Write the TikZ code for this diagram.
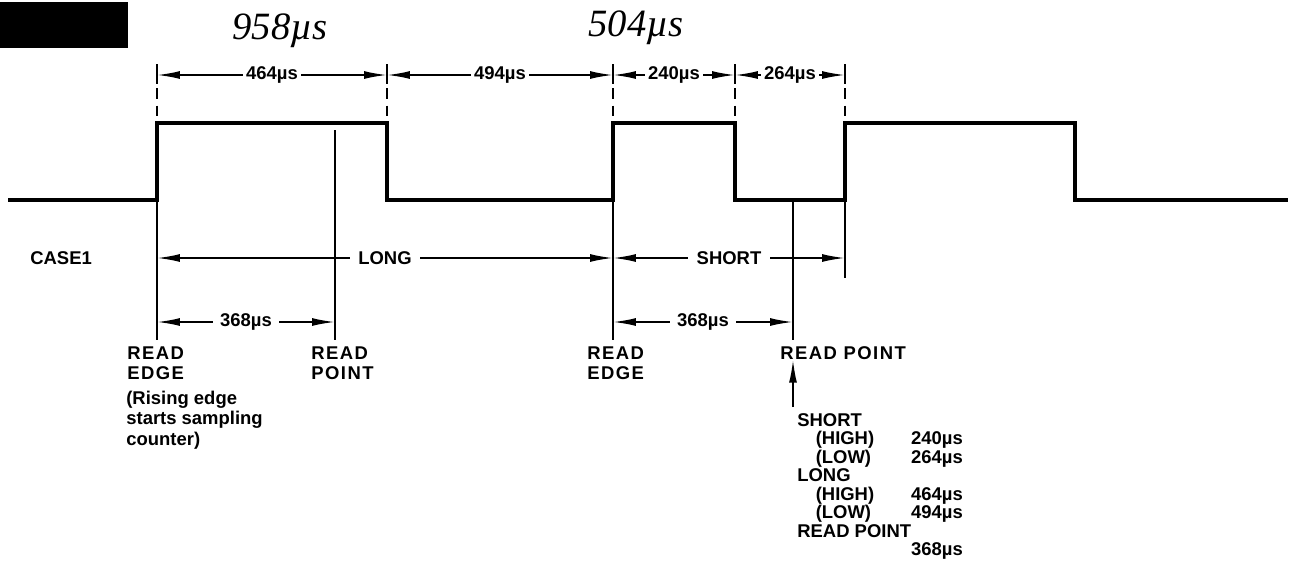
\documentclass[tikz,border=0pt]{standalone}
\usepackage{fontspec}
\setmainfont{Liberation Sans}
\newfontfamily\handfont{Liberation Serif}
\usetikzlibrary{arrows.meta}

\begin{document}
\begin{tikzpicture}[
  x=0.02cm, y=-0.02cm,
  font=\bfseries\fontsize{10.5}{11.5}\selectfont,
  >={Latex[length=13pt,width=4.5pt]},
  wave/.style={line width=2.3pt},
  guide/.style={line width=1pt},
  dim/.style={<->, line width=1pt},
  dimlbl/.style={fill=white, inner sep=2pt},
  lbl/.style={anchor=north west, align=left, inner sep=0pt},
  wide/.style={font=\bfseries\fontsize{10.5}{11.5}\selectfont\addfontfeatures{LetterSpace=8}},
  hand/.style={font=\handfont\itshape\fontsize{22}{22}\selectfont},
]
  \useasboundingbox (0,0) rectangle (1296,582);

  % scan mark
  \fill (0,2) rectangle (128,48);

  % handwritten totals
  \node[hand] (tot1) at (280,31) {958µs};
  \node[hand] (tot2) at (636,28) {504µs};

  % edges
  \coordinate (r1) at (157,200);
  \coordinate (f1) at (387,200);
  \coordinate (r2) at (613,200);
  \coordinate (f2) at (735,200);
  \coordinate (r3) at (845,200);

  % waveform
  \draw[wave] (8,200) -- (157,200) -- (157,123) -- (387,123) -- (387,200)
    -- (613,200) -- (613,123) -- (735,123) -- (735,200) -- (845,200)
    -- (845,123) -- (1075,123) -- (1075,200) -- (1288,200);

  % top dimensions
  \foreach \x in {157,387,613,735,845} {
    \draw[guide] (\x,64) -- (\x,84);
    \draw[guide, dash pattern=on 6pt off 4pt] (\x,88) -- (\x,121);
    \coordinate (t\x) at (\x,75);
  }
  \draw[dim] (t157) -- node[dimlbl] (d1) {464µs} (t387);
  \draw[dim] (t387) -- node[dimlbl] (d2) {494µs} (t613);
  \draw[dim] (t613) -- node[dimlbl] (d3) {240µs} (t735);
  \draw[dim] (t735) -- node[dimlbl] (d4) {264µs} (t845);

  % read lines
  \coordinate (rp1) at (335,130);
  \coordinate (rp2) at (793,200);
  \draw[guide] (r1) -- (157,340);
  \draw[guide] (rp1) -- (335,340);
  \draw[guide] (r2) -- (613,340);
  \draw[guide] (rp2) -- (793,340);
  \draw[guide] (r3) -- (845,278);

  % case 1
  \node[anchor=west, inner sep=0pt] (case) at (30,258) {CASE1};
  \draw[dim] (157,258) -- node[dimlbl, inner sep=5pt] (lng) {LONG} (613,258);
  \draw[dim] (613,258) -- node[dimlbl, inner sep=5pt] (shrt) {SHORT} (845,258);
  \draw[dim] (157,322) -- node[dimlbl, inner sep=4pt] (s1) {368µs} (335,322);
  \draw[dim] (613,322) -- node[dimlbl, inner sep=4pt] (s2) {368µs} (793,322);

  % labels
  \node[lbl, wide] (re1) at (127,346) {READ\\EDGE};
  \node[lbl, wide] (rpt1) at (311,346) {READ\\POINT};
  \node[lbl, wide] (re2) at (587,346) {READ\\EDGE};
  \node[lbl, wide] (rpt2) at (780,346) {READ POINT};
  \node[lbl] (note) at (126,391) {(Rising edge\\starts sampling\\counter)};

  % summary
  \node[lbl, font=\bfseries\fontsize{10.5}{10}\selectfont] (sum) at (797,413)
  {\begin{tabular}{@{}l@{}l@{}}
    SHORT & \\
    \quad(HIGH) & 240µs \\
    \quad(LOW) & 264µs \\
    LONG & \\
    \quad(HIGH) & 464µs \\
    \quad(LOW) & 494µs \\
    READ POINT & \\
     & 368µs
  \end{tabular}};
  \coordinate (ar) at (793,407);
  \draw[->, guide] (ar) -- (ar |- rpt2.south);
\end{tikzpicture}
\end{document}
